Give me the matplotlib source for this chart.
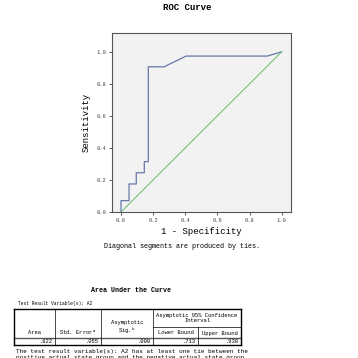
import matplotlib
matplotlib.use("Agg")
import matplotlib.pyplot as plt
import numpy as np

# ROC curve points
fpr = [0, 0, 0.05, 0.05, 0.095, 0.095, 0.145, 0.145, 0.17, 0.17, 0.268, 0.405, 0.911, 1.0]
tpr = [0, 0.071, 0.071, 0.175, 0.175, 0.245, 0.245, 0.314, 0.314, 0.906, 0.906, 0.973, 0.973, 1.0]
ticks = [0.0, 0.2, 0.4, 0.6, 0.8, 1.0]

# AUC table
col_heads = ["Area", "Std. Error$^{a}$", "Asymptotic\nSig.$^{b}$", "Lower Bound", "Upper Bound"]
row_vals = [".822", ".055", ".000", ".713", ".930"]

W = 358
fig = plt.figure(figsize=(3.58, 3.58), dpi=100)
fig.patch.set_facecolor("white")

def fx(x):
    return x / W

def fy(y):
    return 1 - y / W

mono = "Liberation Mono"

# plot area in pixel terms
ax = fig.add_axes([fx(112), fy(212), 179 / W, 179 / W])
ax.set_facecolor("#f2f2f2")
ax.plot(fpr, tpr, color="#6878a8", lw=0.9)
ax.plot([0, 1], [0, 1], color="#66bb66", lw=0.7)
ax.set_xlim(-0.056, 1.058)
ax.set_ylim(0.0, 1.117)
ax.set_xticks(ticks)
ax.set_yticks(ticks)
ax.set_xticklabels(["%.1f" % t for t in ticks], fontsize=3.9, family=mono)
ax.set_yticklabels(["%.1f" % t for t in ticks], fontsize=3.9, family=mono)
ax.tick_params(length=2.5, width=0.6, pad=1.5, colors="#444444")
for s in ax.spines.values():
    s.set_linewidth(0.8)
    s.set_color("#555555")
ax.set_xlabel("1 - Specificity", fontsize=6.5, family=mono, labelpad=3)
ax.set_ylabel("Sensitivity", fontsize=6.5, family=mono, labelpad=4)

fig.text(fx(187), fy(7), "ROC Curve", ha="center", va="center", fontsize=6.5,
         family=mono, weight="bold")
fig.text(fx(104), fy(247), "Diagonal segments are produced by ties.", ha="left",
         va="center", fontsize=4.9, family=mono)

# table
fig.text(fx(131), fy(291), "Area Under the Curve", ha="center", va="center",
         fontsize=4.8, family=mono, weight="bold")
fig.text(fx(18), fy(303), "Test Result Variable(s): A2", ha="left", va="center",
         fontsize=3.3, family=mono)

def hline(x0, x1, y, lw=0.5, color="black"):
    fig.add_artist(plt.Line2D([fx(x0), fx(x1)], [fy(y), fy(y)], color=color, lw=lw))

def vline(x, y0, y1, lw=0.5):
    fig.add_artist(plt.Line2D([fx(x), fx(x)], [fy(y0), fy(y1)], color="black", lw=lw))

cols = [14, 55, 101, 153, 198, 241]
top, mid, head, bot = 309, 327, 337.5, 345
hline(cols[0], cols[-1], top, 1.0)
hline(cols[0], cols[-1], bot, 1.0)
hline(cols[0], cols[-1], head, 1.0, "#555555")
hline(cols[3], cols[5], mid, 0.5)
vline(cols[0], top, bot, 1.0)
vline(cols[-1], top, bot, 1.0)
for c in cols[1:3]:
    vline(c, top, bot, 0.5)
vline(cols[3], top, bot, 0.5)
vline(cols[4], mid, bot, 0.5)

fs = 4.0
for i, h in enumerate(col_heads):
    cx = (cols[i] + cols[i + 1]) / 2
    if i == 2:
        fig.text(fx(cx), fy(335.5), h, ha="center", va="bottom", fontsize=fs,
                 family=mono, linespacing=1.0)
    else:
        fig.text(fx(cx), fy(333), h, ha="center", va="center", fontsize=fs, family=mono)
fig.text(fx((cols[3] + cols[5]) / 2), fy(318), "Asymptotic 95% Confidence\nInterval",
         ha="center", va="center", fontsize=fs, family=mono, linespacing=1.0)
for i, v in enumerate(row_vals):
    fig.text(fx(cols[i + 1] - 2), fy(341.5), v, ha="right", va="center", fontsize=fs,
             family=mono)

fig.text(fx(16), fy(351), "The test result variable(s): A2 has at least one tie between the",
         ha="left", va="center", fontsize=4.3, family=mono)
fig.text(fx(16), fy(358), "positive actual state group and the negative actual state group.",
         ha="left", va="center", fontsize=4.3, family=mono)

fig.savefig("out.png", dpi=100)
